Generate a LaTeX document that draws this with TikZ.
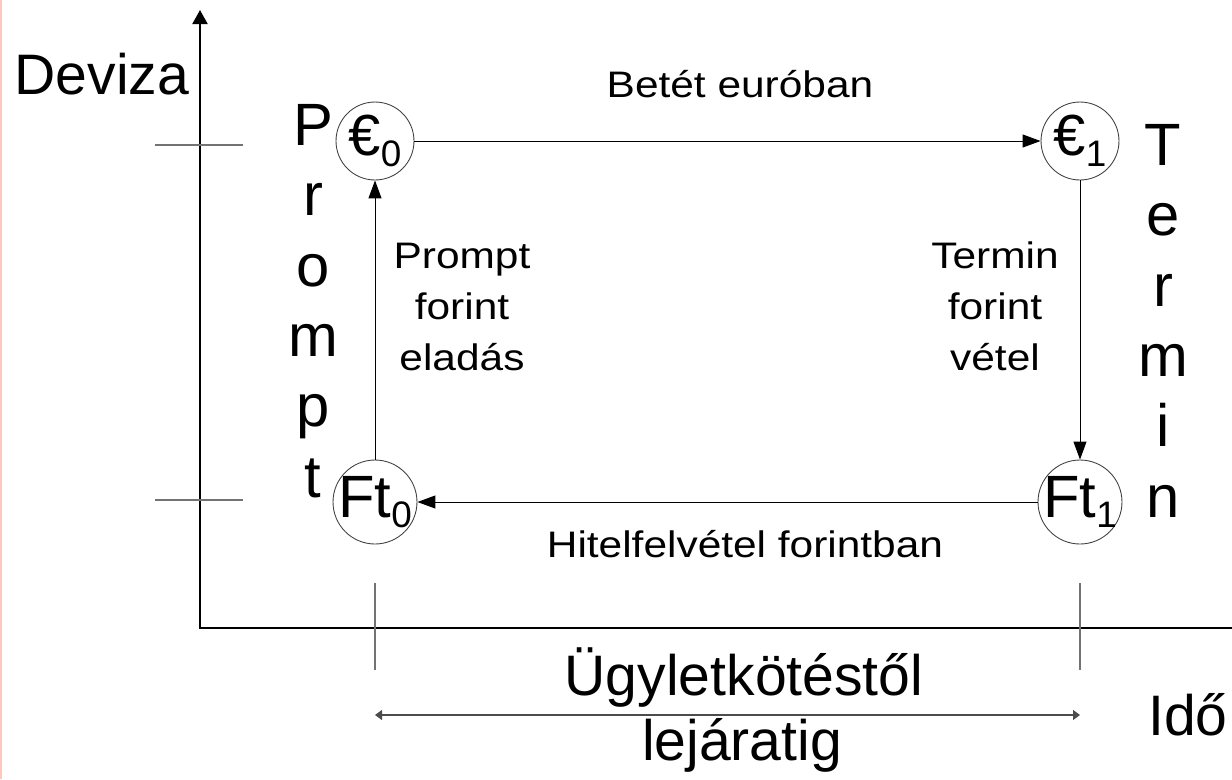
\documentclass[tikz,border=0pt]{standalone}
\usepackage{fontspec}
\setmainfont{Liberation Sans}
\newfontfamily\widesans{Liberation Sans}[FakeStretch=1.15]
\usetikzlibrary{arrows.meta, positioning}
\definecolor{edgepink}{RGB}{255,200,188}
\newcommand{\csub}[2]{#1\raisebox{-6pt}{\fontsize{21pt}{21pt}\selectfont #2}}

\begin{document}
\begin{tikzpicture}[
    x=0.02cm, y=-0.02cm,
    axis/.style={line width=1.1pt, black},
    tick/.style={line width=0.6pt, black!55},
    flow/.style={-{Triangle[length=0.36cm, width=0.26cm]}, line width=0.55pt, black},
    span/.style={{Triangle[length=0.14cm, width=0.2cm]}-{Triangle[length=0.14cm, width=0.2cm]}, line width=0.6pt, black!70},
    cur/.style={circle, draw=black!75, line width=0.5pt, inner sep=0pt, minimum size=1.56cm},
    ftc/.style={cur, minimum size=1.68cm},
    big/.style={font=\fontsize{32.5pt}{32.5pt}\selectfont, inner sep=0pt},
    tall/.style={font=\fontsize{34pt}{40pt}\selectfont, align=center, inner sep=0pt},
    small/.style={font=\widesans\fontsize{21pt}{29pt}\selectfont, align=center, inner sep=0pt}
]
    \useasboundingbox (0,0) rectangle (1232,779);
    \draw[edgepink, line width=1.2pt] (1,0) -- (1,779);

    % axes
    \coordinate (o) at (200,628);
    \coordinate (ytop) at (200,10);
    \coordinate (xend) at (1232,628);
    \draw[axis, {Triangle[length=0.28cm, width=0.3cm]}-, line join=miter] (ytop) -- (o) -- (xend);
    \foreach \y in {145,500} {
        \draw[tick] (155,\y) -- (243,\y);
    }
    \foreach \x in {375,1080} {
        \draw[tick] (\x,583) -- (\x,670);
    }

    \node[big, anchor=base] (dev) at (102,94) {Deviza};
    \node[big, anchor=base west] (ido) at (1148,735) {Idő};

    % currency positions
    \node[cur] (e0) at (375,141) {\makebox[0pt]{\fontsize{33pt}{33pt}\selectfont\csub{€}{0}}};
    \node[cur] (e1) at (1080,141) {\makebox[0pt]{\fontsize{33pt}{33pt}\selectfont\csub{€}{1}}};
    \node[ftc] (ft0) at (375,502) {\makebox[0pt]{\fontsize{34pt}{34pt}\selectfont\csub{Ft}{0}}};
    \node[ftc] (ft1) at (1080,502) {\makebox[0pt]{\fontsize{34pt}{34pt}\selectfont\csub{Ft}{1}}};

    \draw[flow] (e0) -- (e1);
    \draw[flow] (e1) -- (ft1);
    \draw[flow] (ft1) -- (ft0);
    \draw[flow] (ft0) -- (e0);

    \node[small, anchor=base] (betet) at (740,97) {Betét euróban};
    \node[small, anchor=base] (hitel) at (745,557) {Hitelfelvétel forintban};
    \node[small, anchor=base] (elad) at (462,370) {Prompt\\forint\\eladás};
    \node[small, anchor=base] (vetel) at (995,370) {Termin\\forint\\vétel};

    \node[tall, anchor=base] (prompt) at (313,497) {P\\r\\o\\m\\p\\t};
    \node[tall, anchor=base] (termin) at (1163,517) {T\\e\\r\\m\\i\\n};

    % maturity span
    \coordinate (sl) at (375,715);
    \coordinate (sr) at (1080,715);
    \draw[span] (sl) -- (sr);
    \node[big, anchor=base] (ugy) at (744,695) {Ügyletkötéstől};
    \node[big, anchor=base] (lej) at (742,760) {lejáratig};
\end{tikzpicture}
\end{document}
